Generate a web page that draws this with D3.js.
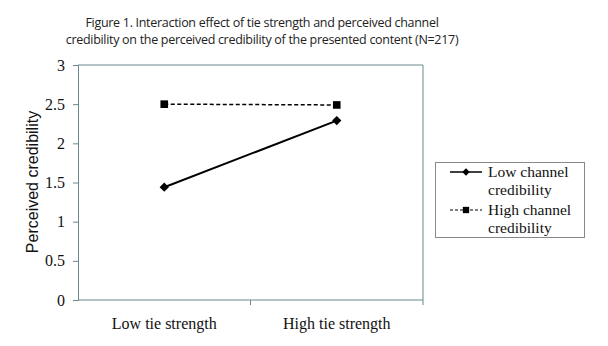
<!DOCTYPE html>
<html><head><meta charset="utf-8">
<script src="https://cdn.jsdelivr.net/npm/d3@7"></script>
<style>body{margin:0;background:#fff;} svg{display:block;}</style>
</head><body>
<svg id="c" width="608" height="346"></svg>
<script>
const categories = ["Low tie strength", "High tie strength"];
const lowChannel = [1.44, 2.29];
const highChannel = [2.5, 2.49];
const yTicks = [0, 0.5, 1, 1.5, 2, 2.5, 3];
const seriesNames = ["Low channel credibility", "High channel credibility"];
const titleLines = ["Figure 1. Interaction effect of tie strength and perceived channel",
  "credibility on the perceived credibility of the presented content (N=217)"];

const svg = d3.select("#c");
const L = 78, R = 423, T = 65, B = 300;
const axisColor = "#6a888d";
const serif = "'Liberation Serif', 'Times New Roman', serif";

const x = d3.scaleBand().domain(categories).range([L, R]);
const y = d3.scaleLinear().domain([0, 3]).range([B, T]);

// title
svg.selectAll("text.title").data(titleLines).join("text")
  .attr("x", 262).attr("y", (d,i) => 27 + i*17)
  .attr("text-anchor", "middle")
  .style("font-family", "'Open Sans', 'Noto Sans', sans-serif")
  .style("font-size", "12.5px").style("letter-spacing", "-0.3px")
  .attr("fill", "#222").text(d => d);

// plot frame (top and right)
svg.append("path").attr("d", `M${L},${T}H${R}V${B}`).attr("fill","none").attr("stroke", axisColor).attr("stroke-width", 1);

// y axis
const yAxis = svg.append("g").attr("transform", `translate(${L},0)`)
  .call(d3.axisLeft(y).tickValues(yTicks).tickSize(5).tickPadding(8).tickFormat(d3.format("")));
yAxis.selectAll("text").style("font-family", serif).style("font-size", "16px").attr("fill", "#111");
yAxis.selectAll("line,path").attr("stroke", axisColor);

// x axis
const xAxis = svg.append("g").attr("transform", `translate(0,${B})`)
  .call(d3.axisBottom(x).tickSize(0).tickPadding(18));
xAxis.select("path").attr("stroke", axisColor).attr("d", `M${L},0H${R}`);
xAxis.selectAll("text").style("font-family", serif).style("font-size", "16px").attr("fill", "#111");
// band separators ticks
svg.selectAll("line.xt").data([x(categories[1]), R]).join("line")
  .attr("x1", d => d).attr("x2", d => d).attr("y1", B).attr("y2", B + 5).attr("stroke", axisColor);

// y label
svg.append("text").attr("transform", `translate(38,182) rotate(-90)`)
  .attr("text-anchor", "middle")
  .style("font-family", "'Liberation Sans', Arial, sans-serif").style("font-size", "16px")
  .attr("fill", "#111").text("Perceived credibility");

const cx = d => x(d) + x.bandwidth()/2;
const line = d3.line().x(d => cx(d.c)).y(d => y(d.v));
const lowData = categories.map((c,i) => ({c, v: lowChannel[i]}));
const highData = categories.map((c,i) => ({c, v: highChannel[i]}));

svg.append("path").datum(highData).attr("d", line).attr("fill","none").attr("stroke","#000").attr("stroke-width",1.5).attr("stroke-dasharray","4,2.5");
svg.append("path").datum(lowData).attr("d", line).attr("fill","none").attr("stroke","#000").attr("stroke-width",2);

const diamond = d3.symbol().type(d3.symbolDiamond2).size(55);
const square = d3.symbol().type(d3.symbolSquare).size(58);
svg.selectAll("path.lo").data(lowData).join("path")
  .attr("transform", d => `translate(${cx(d.c)},${y(d.v)})`).attr("d", diamond).attr("fill","#000");
svg.selectAll("path.hi").data(highData).join("path")
  .attr("transform", d => `translate(${cx(d.c)},${y(d.v)})`).attr("d", square).attr("fill","#000");

// legend
const lg = svg.append("g");
lg.append("rect").attr("x", 435.5).attr("y", 162.5).attr("width", 149).attr("height", 75)
  .attr("fill", "#fff").attr("stroke", "#888").attr("stroke-width", 1);
const words = seriesNames.map(s => { const p = s.split(" "); return [p.slice(0,2).join(" "), p.slice(2).join(" ")]; });
// series 1
lg.append("line").attr("x1", 450).attr("x2", 482).attr("y1", 172).attr("y2", 172).attr("stroke","#000").attr("stroke-width",1.5);
lg.append("path").attr("transform","translate(466,172)").attr("d", d3.symbol().type(d3.symbolDiamond2).size(35)).attr("fill","#000");
lg.append("line").attr("x1", 450).attr("x2", 482).attr("y1", 210).attr("y2", 210).attr("stroke","#000").attr("stroke-width",1.2).attr("stroke-dasharray","3,2");
lg.append("path").attr("transform","translate(466,210)").attr("d", d3.symbol().type(d3.symbolSquare).size(40)).attr("fill","#000");
words.forEach((w, i) => {
  w.forEach((t, j) => {
    lg.append("text").attr("x", 488).attr("y", 177 + i*38 + j*18)
      .style("font-family", serif).style("font-size", "15.5px").attr("fill", "#111").text(t);
  });
});
</script>
</body></html>
